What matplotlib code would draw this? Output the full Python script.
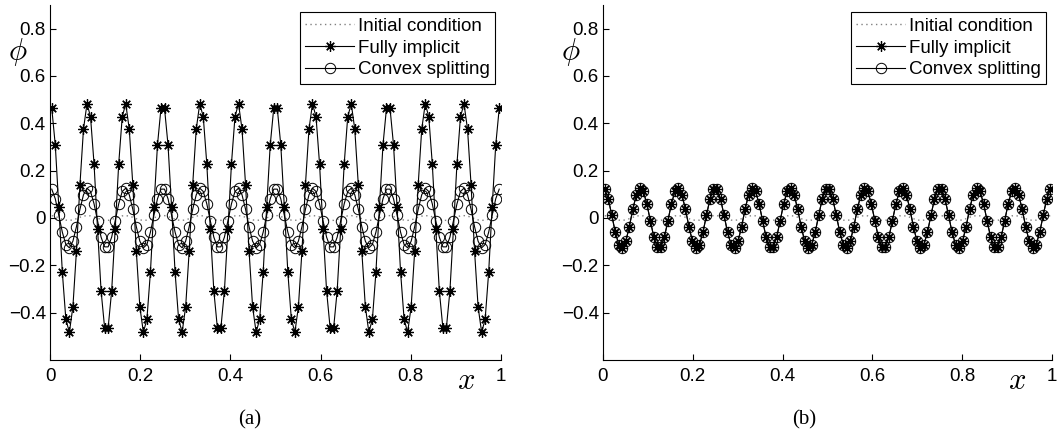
import numpy as np
import matplotlib
matplotlib.use("Agg")
import matplotlib.pyplot as plt

# grid: 128 cell-centred points on [0, 1]
n_pts = 128
x = (np.arange(n_pts) + 0.5) / n_pts

phi_init = [
    0.010, 0.006, 0.001, -0.005, -0.009, -0.010, -0.008, -0.003, 0.003, 0.008, 0.010, 0.009, 0.005, -0.001, -0.006, -0.010,
    -0.010, -0.006, -0.001, 0.005, 0.009, 0.010, 0.008, 0.003, -0.003, -0.008, -0.010, -0.009, -0.005, 0.001, 0.006, 0.010,
    0.010, 0.006, 0.001, -0.005, -0.009, -0.010, -0.008, -0.003, 0.003, 0.008, 0.010, 0.009, 0.005, -0.001, -0.006, -0.010,
    -0.010, -0.006, -0.001, 0.005, 0.009, 0.010, 0.008, 0.003, -0.003, -0.008, -0.010, -0.009, -0.005, 0.001, 0.006, 0.010,
    0.010, 0.006, 0.001, -0.005, -0.009, -0.010, -0.008, -0.003, 0.003, 0.008, 0.010, 0.009, 0.005, -0.001, -0.006, -0.010,
    -0.010, -0.006, -0.001, 0.005, 0.009, 0.010, 0.008, 0.003, -0.003, -0.008, -0.010, -0.009, -0.005, 0.001, 0.006, 0.010,
    0.010, 0.006, 0.001, -0.005, -0.009, -0.010, -0.008, -0.003, 0.003, 0.008, 0.010, 0.009, 0.005, -0.001, -0.006, -0.010,
    -0.010, -0.006, -0.001, 0.005, 0.009, 0.010, 0.008, 0.003, -0.003, -0.008, -0.010, -0.009, -0.005, 0.001, 0.006, 0.010,
]

phi_implicit_a = [
    0.464, 0.308, 0.048, -0.229, -0.428, -0.483, -0.375, -0.141, 0.141, 0.375, 0.483, 0.428, 0.229, -0.048, -0.308, -0.464,
    -0.464, -0.308, -0.048, 0.229, 0.428, 0.483, 0.375, 0.141, -0.141, -0.375, -0.483, -0.428, -0.229, 0.048, 0.308, 0.464,
    0.464, 0.308, 0.048, -0.229, -0.428, -0.483, -0.375, -0.141, 0.141, 0.375, 0.483, 0.428, 0.229, -0.048, -0.308, -0.464,
    -0.464, -0.308, -0.048, 0.229, 0.428, 0.483, 0.375, 0.141, -0.141, -0.375, -0.483, -0.428, -0.229, 0.048, 0.308, 0.464,
    0.464, 0.308, 0.048, -0.229, -0.428, -0.483, -0.375, -0.141, 0.141, 0.375, 0.483, 0.428, 0.229, -0.048, -0.308, -0.464,
    -0.464, -0.308, -0.048, 0.229, 0.428, 0.483, 0.375, 0.141, -0.141, -0.375, -0.483, -0.428, -0.229, 0.048, 0.308, 0.464,
    0.464, 0.308, 0.048, -0.229, -0.428, -0.483, -0.375, -0.141, 0.141, 0.375, 0.483, 0.428, 0.229, -0.048, -0.308, -0.464,
    -0.464, -0.308, -0.048, 0.229, 0.428, 0.483, 0.375, 0.141, -0.141, -0.375, -0.483, -0.428, -0.229, 0.048, 0.308, 0.464,
]

phi_convex_a = [
    0.122, 0.081, 0.012, -0.060, -0.112, -0.126, -0.098, -0.037, 0.037, 0.098, 0.126, 0.112, 0.060, -0.012, -0.081, -0.122,
    -0.122, -0.081, -0.012, 0.060, 0.112, 0.126, 0.098, 0.037, -0.037, -0.098, -0.126, -0.112, -0.060, 0.012, 0.081, 0.122,
    0.122, 0.081, 0.012, -0.060, -0.112, -0.126, -0.098, -0.037, 0.037, 0.098, 0.126, 0.112, 0.060, -0.012, -0.081, -0.122,
    -0.122, -0.081, -0.012, 0.060, 0.112, 0.126, 0.098, 0.037, -0.037, -0.098, -0.126, -0.112, -0.060, 0.012, 0.081, 0.122,
    0.122, 0.081, 0.012, -0.060, -0.112, -0.126, -0.098, -0.037, 0.037, 0.098, 0.126, 0.112, 0.060, -0.012, -0.081, -0.122,
    -0.122, -0.081, -0.012, 0.060, 0.112, 0.126, 0.098, 0.037, -0.037, -0.098, -0.126, -0.112, -0.060, 0.012, 0.081, 0.122,
    0.122, 0.081, 0.012, -0.060, -0.112, -0.126, -0.098, -0.037, 0.037, 0.098, 0.126, 0.112, 0.060, -0.012, -0.081, -0.122,
    -0.122, -0.081, -0.012, 0.060, 0.112, 0.126, 0.098, 0.037, -0.037, -0.098, -0.126, -0.112, -0.060, 0.012, 0.081, 0.122,
]

# panel (b): both schemes sit on top of each other
phi_convex_b = list(phi_convex_a)
phi_implicit_b = list(phi_convex_a)

labels = ["Initial condition", "Fully implicit", "Convex splitting"]
xticks = [0, 0.2, 0.4, 0.6, 0.8, 1]
xticklabels = ["0", "0.2", "0.4", "0.6", "0.8", "1"]
yticks = [-0.4, -0.2, 0, 0.2, 0.4, 0.6, 0.8]
yticklabels = ["\u22120.4", "\u22120.2", "0", "0.2", "0.4", "0.6", "0.8"]
captions = ["(a)", "(b)"]

plt.rcParams["font.family"] = ["Liberation Sans", "DejaVu Sans"]
plt.rcParams["mathtext.fontset"] = "cm"

fig = plt.figure(figsize=(10.6, 4.34), dpi=100)
W, H = 1060, 434
ax_a = fig.add_axes([50 / W, 1 - 360 / H, 451 / W, 355 / H])
ax_b = fig.add_axes([603 / W, 1 - 360 / H, 449 / W, 355 / H])

star = (8, 2, 0)

for ax, imp, cvx, cap, cx in [
    (ax_a, phi_implicit_a, phi_convex_a, captions[0], 250),
    (ax_b, phi_implicit_b, phi_convex_b, captions[1], 804),
]:
    ax.plot(x, phi_init, linestyle=(0, (1, 2.5)), color="0.5", lw=1.0,
            label=labels[0])
    ax.plot(x, imp, "-", color="black", lw=0.8, marker=star, ms=7.5, mew=0.9,
            label=labels[1])
    ax.plot(x, cvx, "-", color="black", lw=0.8, marker="o", ms=7.5, mew=0.7,
            mfc="none", mec="black", label=labels[2])

    ax.set_xlim(0, 1)
    ax.set_ylim(-0.6, 0.9)
    ax.set_xticks(xticks)
    ax.set_xticklabels(xticklabels)
    ax.set_yticks(yticks)
    ax.set_yticklabels(yticklabels)
    ax.tick_params(direction="in", length=4, width=0.8, labelsize=13.5)
    ax.tick_params(axis="x", pad=6)
    ax.tick_params(axis="y", pad=3)
    for s in ["top", "right"]:
        ax.spines[s].set_visible(False)
    for s in ["left", "bottom"]:
        ax.spines[s].set_linewidth(0.8)

    ax.text(-0.071, 0.868, r"$\phi$", transform=ax.transAxes, fontsize=22,
            ha="center", va="center")
    ax.text(0.922, -0.058, r"$x$", transform=ax.transAxes, fontsize=22,
            ha="center", va="center")

    leg = ax.legend(loc="upper right", bbox_to_anchor=(0.987, 0.98),
                    borderaxespad=0, fontsize=13.5, numpoints=1,
                    handlelength=2.6, handletextpad=0.2, labelspacing=0.25,
                    borderpad=0.3, fancybox=False, framealpha=1,
                    edgecolor="black")
    leg.get_frame().set_linewidth(0.8)

    fig.text(cx / W, 1 - 420 / H, cap, family=["Liberation Serif", "DejaVu Serif"],
             fontsize=15, ha="center", va="center")

fig.savefig("out.png", dpi=100)
